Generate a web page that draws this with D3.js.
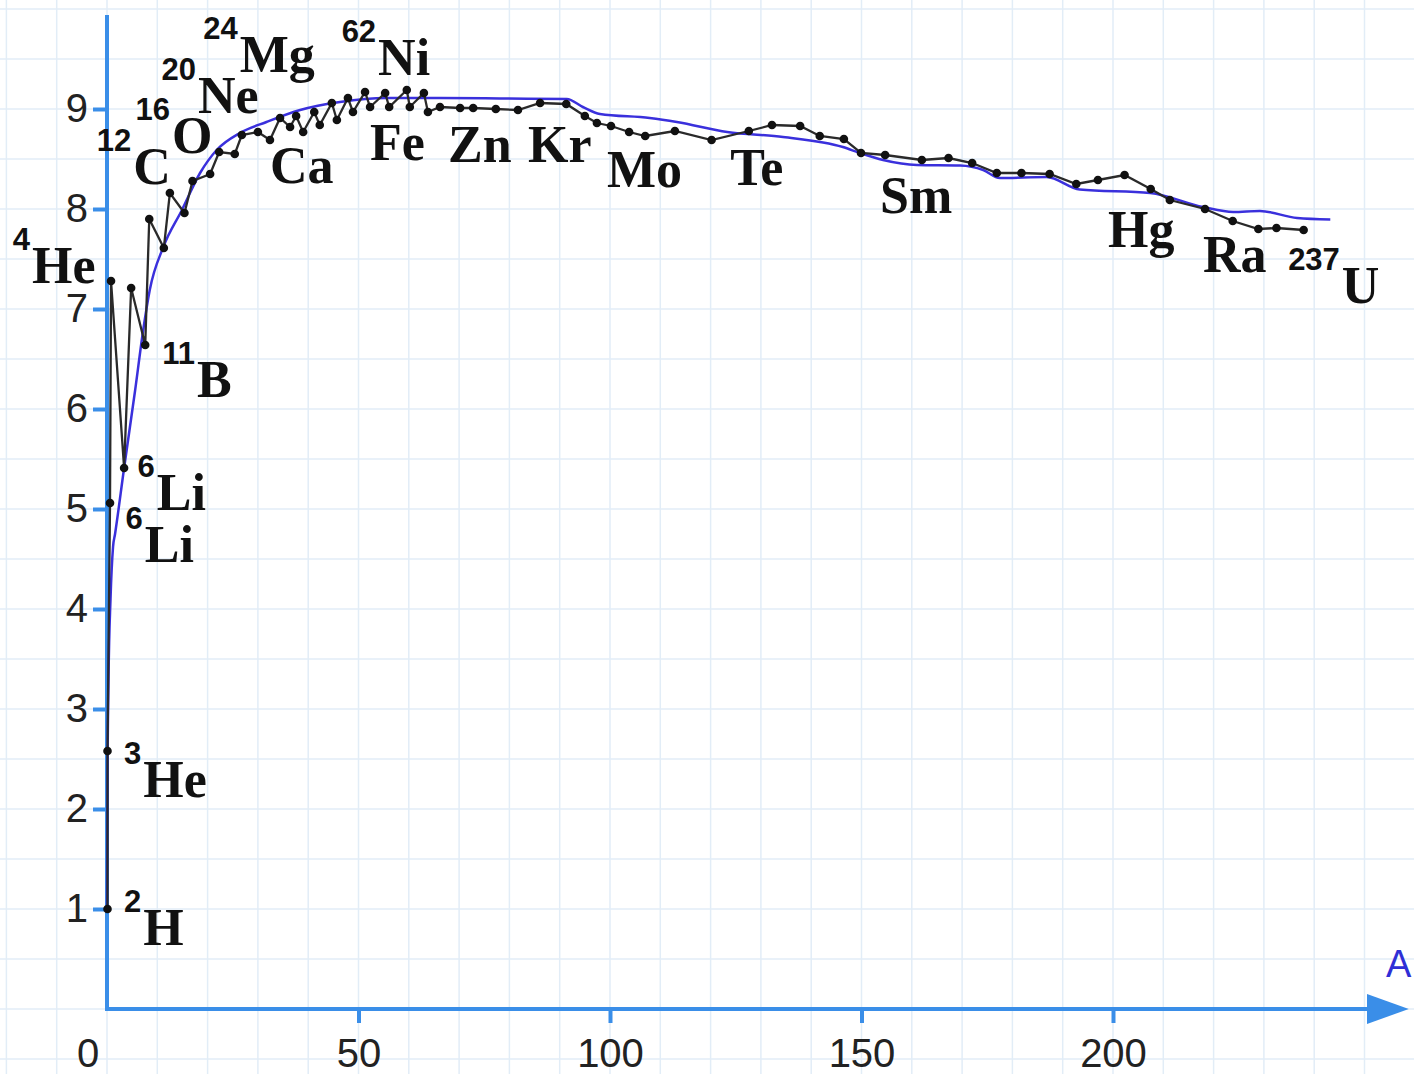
<!DOCTYPE html>
<html>
<head>
<meta charset="utf-8">
<script src="https://cdn.jsdelivr.net/npm/d3@7"></script>
<style>
  body { margin: 0; background: #fff; }
  svg { display: block; }
</style>
</head>
<body>
<svg width="1414" height="1074"></svg>
<script>
// measured points (mass number A, binding energy per nucleon in MeV)
var measuredA = [0.1, 0.1, 0.6, 0.8, 3.4, 4.8, 7.6, 8.4, 11.3, 12.5, 15.4, 17.0, 20.5, 22.3, 25.4, 26.8,
    30.0, 32.4, 34.4, 36.4, 37.6, 39.0, 41.2, 42.3, 44.7, 45.7, 47.9, 48.9, 51.3, 52.3, 55.3, 56.1,
    59.6, 60.2, 63.0, 63.8, 66.2, 70.2, 72.8, 77.3, 81.7, 86.1, 91.3, 95.0, 97.4, 100.2, 103.8, 107.0,
    112.9, 120.2, 127.6, 132.2, 137.8, 141.7, 146.5, 149.9, 154.7, 162.0, 167.3, 172.0, 176.9, 181.8,
    187.4, 192.7, 197.0, 202.3, 207.5, 211.3, 218.3, 223.8, 228.9, 232.5, 237.9];
var measuredB = [1.00, 2.58, 5.06, 7.28, 5.41, 7.21, 6.64, 7.90, 7.61, 8.16, 7.96, 8.28, 8.35, 8.57, 8.55, 8.74,
    8.77, 8.69, 8.91, 8.82, 8.93, 8.77, 8.97, 8.84, 9.06, 8.89, 9.11, 8.97, 9.17, 9.02, 9.16, 9.02,
    9.19, 9.02, 9.16, 8.97, 9.02, 9.01, 9.01, 9.00, 8.99, 9.06, 9.05, 8.93, 8.86, 8.83, 8.77, 8.73,
    8.78, 8.69, 8.78, 8.84, 8.83, 8.73, 8.70, 8.56, 8.54, 8.49, 8.51, 8.46, 8.36, 8.36,
    8.35, 8.25, 8.29, 8.34, 8.20, 8.09, 8.00, 7.88, 7.80, 7.81, 7.79];

// smooth (formula) curve
var fitA = [0, 0.1, 0.3, 0.7, 1.2, 1.6, 3.4, 5.6, 7.2, 8.5, 11.2, 14.9, 18.5, 21.8, 26.4, 31.7, 38.4,
    46.3, 55.6, 64.8, 78.1, 91.4, 94.6, 98.0, 107.9, 113.3, 123.3, 134.4, 146.3, 149.7, 154.3, 161.0,
    169.6, 174.2, 177.5, 186.8, 193.4, 207.4, 217.9, 223.9, 229.2, 236.6, 243.2];
var fitB = [1.04, 2.3, 3.3, 4.1, 4.62, 4.75, 5.41, 6.19, 6.79, 7.19, 7.62, 7.99, 8.36, 8.59, 8.76, 8.87, 8.99,
    9.07, 9.11, 9.11, 9.105, 9.10, 9.02, 8.95, 8.91, 8.87, 8.77, 8.72, 8.62, 8.56, 8.49, 8.44,
    8.435, 8.39, 8.31, 8.32, 8.195, 8.16, 8.02, 7.97, 7.98, 7.91, 7.895];

// nuclide labels
var labelSymbol = ["He", "C", "O", "Ne", "Mg", "Ni", "Ca", "Fe", "Zn", "Kr", "Mo", "Te", "Sm", "Hg", "Ra", "U",
    "B", "Li", "Li", "He", "H"];
var labelMass = ["4", "12", "16", "20", "24", "62", "", "", "", "", "", "", "", "", "", "237",
    "11", "6", "6", "3", "2"];
var labelA = [-14.9, 5.2, 12.9, 18.1, 26.4, 53.9, 32.4, 52.3, 67.8, 83.7, 99.4, 123.9, 153.7, 199.0, 217.9, 245.5,
    17.9, 9.9, 7.5, 7.2, 7.2];
var labelB = [7.26, 8.25, 8.56, 8.96, 9.37, 9.34, 8.26, 8.49, 8.47, 8.47, 8.22, 8.24, 7.96, 7.62, 7.37, 7.06,
    6.12, 4.99, 4.47, 2.12, 0.64];

var yTicks = [1, 2, 3, 4, 5, 6, 7, 8, 9];
var xTicks = [50, 100, 150, 200];

var svg = d3.select("svg"),
    width = 1414,
    height = 1074;

var x = d3.scaleLinear().domain([0, 250]).range([107, 1364.5]);
var y = d3.scaleLinear().domain([0, 10]).range([1009, 9]);

var axisColor = "#3a8ee8";

// graph paper grid
var grid = svg.append("g").attr("stroke", "#e2edf7").attr("stroke-width", 1.5);
grid.selectAll("line.v")
    .data(d3.range(-20, 270, 10))
    .enter().append("line")
    .attr("class", "v")
    .attr("x1", function (d) { return x(d); })
    .attr("x2", function (d) { return x(d); })
    .attr("y1", 0).attr("y2", height);
grid.selectAll("line.h")
    .data(d3.range(-1, 11, 0.5))
    .enter().append("line")
    .attr("class", "h")
    .attr("y1", function (d) { return y(d); })
    .attr("y2", function (d) { return y(d); })
    .attr("x1", 0).attr("x2", width);

// axes
var yAxis = svg.append("g")
    .attr("transform", "translate(" + x(0) + ",0)")
    .call(d3.axisLeft(y).tickValues(yTicks).tickSize(14).tickPadding(5).tickFormat(d3.format("d")));
var xAxis = svg.append("g")
    .attr("transform", "translate(0," + y(0) + ")")
    .call(d3.axisBottom(x).tickValues(xTicks).tickSize(14).tickPadding(16).tickFormat(d3.format("d")));

[xAxis, yAxis].forEach(function (g) {
    g.select(".domain").remove();
    g.selectAll(".tick line").attr("stroke", axisColor).attr("stroke-width", 4);
    g.selectAll(".tick text")
        .attr("fill", "#222")
        .style("font-family", "'Liberation Sans', Arial, sans-serif")
        .style("font-size", "40px");
});

svg.append("text")
    .attr("x", x(0) - 19)
    .attr("y", y(0) + 30)
    .attr("dy", "0.71em")
    .attr("text-anchor", "middle")
    .attr("fill", "#222")
    .style("font-family", "'Liberation Sans', Arial, sans-serif")
    .style("font-size", "40px")
    .text("0");

svg.append("line")
    .attr("x1", x(0)).attr("x2", x(0))
    .attr("y1", y(0) + 2).attr("y2", y(9.94))
    .attr("stroke", axisColor).attr("stroke-width", 4);
svg.append("line")
    .attr("x1", x(0) - 2).attr("x2", x(252))
    .attr("y1", y(0)).attr("y2", y(0))
    .attr("stroke", axisColor).attr("stroke-width", 4);
svg.append("path")
    .attr("d", "M" + x(250.5) + "," + (y(0) - 15) + "L" + x(258.8) + "," + y(0) + "L" + x(250.5) + "," + (y(0) + 15) + "Z")
    .attr("fill", axisColor);
svg.append("text")
    .attr("x", x(256.8))
    .attr("y", y(0) - 32)
    .attr("text-anchor", "middle")
    .attr("fill", "#2f2fd6")
    .style("font-family", "'Liberation Sans', Arial, sans-serif")
    .style("font-size", "38px")
    .text("A");

// smooth curve
var fit = fitA.map(function (a, i) { return [a, fitB[i]]; });
svg.append("path")
    .datum(fit)
    .attr("fill", "none")
    .attr("stroke", "#3a30dc")
    .attr("stroke-width", 2.5)
    .attr("d", d3.line()
        .x(function (d) { return x(d[0]); })
        .y(function (d) { return y(d[1]); })
        .curve(d3.curveMonotoneX));

// measured values
var measured = measuredA.map(function (a, i) { return [a, measuredB[i]]; });
svg.append("path")
    .datum(measured)
    .attr("fill", "none")
    .attr("stroke", "#2a2a2a")
    .attr("stroke-width", 2.3)
    .attr("d", d3.line()
        .x(function (d) { return x(d[0]); })
        .y(function (d) { return y(d[1]); }));
svg.append("g").selectAll("circle")
    .data(measured)
    .enter().append("circle")
    .attr("cx", function (d) { return x(d[0]); })
    .attr("cy", function (d) { return y(d[1]); })
    .attr("r", 4.3)
    .attr("fill", "#111");

// labels
var labels = svg.append("g").selectAll("g")
    .data(labelSymbol)
    .enter().append("g")
    .attr("transform", function (d, i) { return "translate(" + x(labelA[i]) + "," + y(labelB[i]) + ")"; });
labels.append("text")
    .attr("fill", "#111")
    .style("font-family", "'Liberation Serif', 'Times New Roman', serif")
    .style("font-weight", "bold")
    .style("font-size", "52px")
    .text(function (d) { return d; });
labels.append("text")
    .attr("x", -2)
    .attr("y", -33)
    .attr("text-anchor", "end")
    .attr("fill", "#111")
    .style("font-family", "'Liberation Sans', Arial, sans-serif")
    .style("font-weight", "bold")
    .style("font-size", "31px")
    .text(function (d, i) { return labelMass[i]; });
</script>
</body>
</html>
